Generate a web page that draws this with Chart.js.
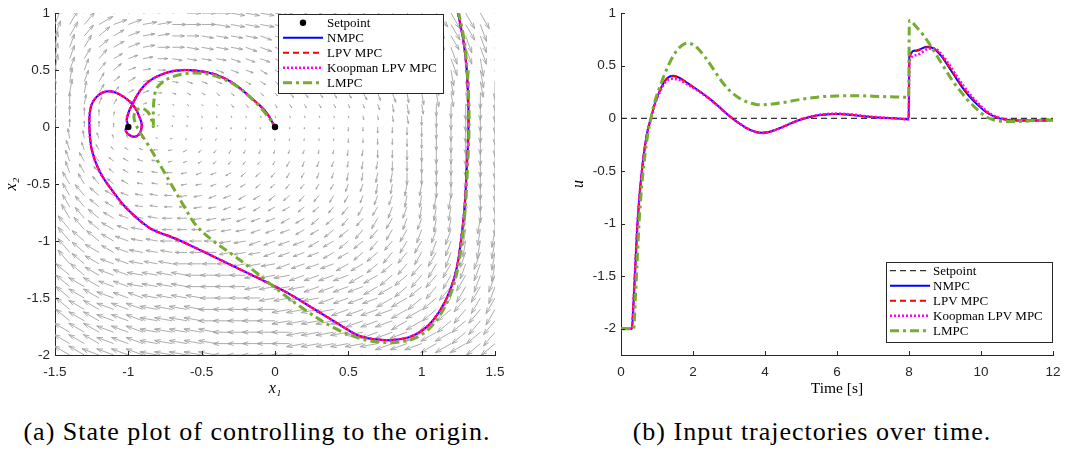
<!DOCTYPE html>
<html>
<head>
<meta charset="utf-8">
<title>State plot and input trajectories</title>
<script src="https://cdn.jsdelivr.net/npm/chart.js@4.4.1/dist/chart.umd.min.js"></script>
<style>
  html, body { margin: 0; padding: 0; background: #fff; }
  body { position: relative; width: 1072px; height: 450px; overflow: hidden; }
  .panel { position: absolute; top: 0; width: 536px; height: 400px; }
  .caption { position: absolute; top: 419px; font-family: 'Liberation Serif', 'DejaVu Serif', serif;
             font-size: 26px; line-height: 26px; letter-spacing: 1px; color: #000; white-space: nowrap;
             transform: translateX(-50%); }
</style>
</head>
<body>
<div class="panel" style="left:0"><canvas id="stateChart" width="536" height="400"></canvas></div>
<div class="panel" style="left:536px"><canvas id="inputChart" width="536" height="400"></canvas></div>
<div class="caption" style="left:257px">(a) State plot of controlling to the origin.</div>
<div class="caption" style="left:812px">(b) Input trajectories over time.</div>
<script>
// ---------- (a) state plot ----------
const X1_TICKS = [-1.5, -1, -0.5, 0, 0.5, 1, 1.5];
const X1_LABELS = ['-1.5', '-1', '-0.5', '0', '0.5', '1', '1.5'];
const X2_TICKS = [-2, -1.5, -1, -0.5, 0, 0.5, 1];
const X2_LABELS = ['-2', '-1.5', '-1', '-0.5', '0', '0.5', '1'];

const SETPOINT_X1 = [0, -1];
const SETPOINT_X2 = [0, 0];

// NMPC state trajectory (LPV MPC and Koopman LPV MPC lie on top of it)
const NMPC_X1 = [1.245, 1.284, 1.307, 1.318, 1.318, 1.307, 1.295, 1.273, 1.24, 1.193, 1.125, 1.034, 0.92, 0.807,
  0.693, 0.58, 0.511, 0.284, 0.057, -0.284, -0.64, -0.716, -0.852, -1.011, -1.102, -1.193, -1.25, -1.266,
  -1.255, -1.22, -1.17, -1.114, -1.057, -1.0, -0.97, -0.945, -0.925, -0.909, -0.92, -0.955, -1.0, -1.02, -1.0,
  -1.011, -0.995, -0.97, -0.94, -0.898, -0.86, -0.807, -0.716, -0.614, -0.51, -0.398, -0.284, -0.148, -0.057, 0];
const NMPC_X2 = [1.02, 0.76, 0.5, 0.21, -0.08, -0.37, -0.66, -0.945, -1.23, -1.436, -1.61, -1.754, -1.841, -1.868,
  -1.864, -1.835, -1.79, -1.61, -1.436, -1.22, -1.0, -0.96, -0.888, -0.715, -0.57, -0.396, -0.194, 0.037,
  0.18, 0.26, 0.305, 0.312, 0.285, 0.235, 0.195, 0.15, 0.09, 0.023, -0.05, -0.084, -0.064, -0.02, 0.0,
  0.066, 0.14, 0.205, 0.28, 0.355, 0.4, 0.442, 0.486, 0.5, 0.49, 0.457, 0.384, 0.24, 0.124, 0];
const LPV_X1 = NMPC_X1.slice();
const LPV_X2 = NMPC_X2.slice();
const KOOP_X1 = NMPC_X1.slice();
const KOOP_X2 = NMPC_X2.slice();

const LMPC_X1 = [1.25, 1.29, 1.31, 1.322, 1.322, 1.312, 1.3, 1.28, 1.248, 1.205, 1.14, 1.05, 0.94, 0.82, 0.7,
  0.58, 0.4, 0.2, 0.03, -0.17, -0.3, -0.43, -0.54, -0.625, -0.716, -0.807, -0.875, -0.932, -0.96, -0.955,
  -0.925, -0.885, -0.855, -0.838, -0.83,
  -0.83, -0.825, -0.807, -0.76, -0.7, -0.6, -0.47, -0.35, -0.25, -0.12, -0.04, 0];
const LMPC_X2 = [1.02, 0.76, 0.5, 0.21, -0.08, -0.37, -0.66, -0.945, -1.23, -1.44, -1.62, -1.77, -1.86, -1.89, -1.885,
  -1.855, -1.76, -1.6, -1.44, -1.234, -1.11, -0.99, -0.86, -0.685, -0.483, -0.281, -0.136, -0.02, 0.07, 0.13,
  0.162, 0.152, 0.11, 0.05, 0.005,
  0.12, 0.24, 0.34, 0.4, 0.44, 0.47, 0.468, 0.42, 0.35, 0.2, 0.08, 0];

// gray vector field on the 0.1 grid.
// one string per row (top row first); angle char = base-36 tens of degrees (screen, ccw from +x),
// length char = relative arrow length 0-9.
const FIELD_X1 = [-1.5, -1.4, -1.3, -1.2, -1.1, -1.0, -0.9, -0.8, -0.7, -0.6, -0.5, -0.4, -0.3, -0.2, -0.1, 0,
  0.1, 0.2, 0.3, 0.4, 0.5, 0.6, 0.7, 0.8, 0.9, 1.0, 1.1, 1.2, 1.3, 1.4, 1.5];
const FIELD_X2 = [1.0, 0.9, 0.8, 0.7, 0.6, 0.5, 0.4, 0.3, 0.2, 0.1, 0, -0.1, -0.2, -0.3, -0.4, -0.5, -0.6, -0.7,
  -0.8, -0.9, -1.0, -1.1, -1.2, -1.3, -1.4, -1.5, -1.6, -1.7, -1.8, -1.9, -2.0];
const FIELD_ANGLE = [
  '654322111000zzzzyyyyxxxwwvvuuut',
  '76532211000zzzzyyyyxxxwwvvuuutt',
  '7654321100zzzzyyyyxxxwwvvuuuttt',
  '876432100zzzzyyyxxxxwwvvuutttts',
  '87653210zzzzyyyxxxwwwvvuutttsss',
  '87754210zzyyyyxxwwwwvvuutttssss',
  '98764310zyyyxxxwwwvvvuutttssssr',
  '98865320yxxwwwwvvvvuuuttsssssrr',
  '9987642zxwvvvvuuuuuutttsssrrrrr',
  '99998763xvttttttttttsssssrrrrrr',
  '9999999999rrrrrrrrrrrrrrrrrrrrr',
  'aaabbcegjmoppqqqqqrrrrrrrrrrrrr',
  'abbcdfgijlmnooppppqqqqrrrrrrrrr',
  'abcdefghjklmnnnoopppqqqrrrrrrrr',
  'bbcdefhhijkklmmnooppqqqqrrrrrrr',
  'bccdefhhijjkllmmnnooppqqqqrrrrr',
  'bcdefghhijjkkllmmnnoopppqqqqrrr',
  'bcdefghhiijjkklllmmnnooppqqqqrr',
  'ccdefghhiijjjkkkllmmnnooppqqqqr',
  'cddefghhiiijjjkkkllmmnnoopppqqq',
  'cdeefghhiiiijjkkkkllmmnnooppqqq',
  'cdeffghhhiiijjjkkkkllmmnnoopppq',
  'ddefgghhhiiiijjjkkkkllmmnnooppq',
  'deefgghhhhiiiijjjkkkkllmmnnoopp',
  'deffgghhhhiiiijjjjkkkkllmmnnoop',
  'deffggghhhhiiiijjjjkkkkllmmnnoo',
  'eeffggghhhhiiiiijjjjkkkkllmmnno',
  'eeffggghhhhiiiiijjjjjkkklllmmnn',
  'efffggghhhhhiiiiijjjjjkkklllmmn',
  'efffggghhhhhiiiiijjjjjjkkklllmm',
  'fffgggghhhhhiiiiiijjjjjjkkklllm'
];
const FIELD_LEN = [
  '9988777777777777777788888999999',
  '9888777777777777777777888889999',
  '8877666666666666666677778888999',
  '8776666666666666666666777889999',
  '8766555555555555555556677889999',
  '8765544444444444444455667788999',
  '8765443333333333333344556677889',
  '7765433222222222333334455677889',
  '7654322111112222222222345567889',
  '6543211111111111111112234567889',
  '5433211111111111111122334567889',
  '5543221111111111111122334567889',
  '6543222222222222222233445677889',
  '6654333322222222333334455677889',
  '7654333333333333333344556677889',
  '8765443333333333333344556677889',
  '8776544444444444444444556677889',
  '8776554444444444444455566677889',
  '9877655555555555555555666677889',
  '9987766555555555555666667778889',
  '9988776666666666666666667788899',
  '9988777666666666666666777788899',
  '9988777777777777777777777888899',
  '9998888888888888888888888888999',
  '9999888888888888888888888889999',
  '9999988888888888888888899999999',
  '9999999999999999999999999999999',
  '9999999999999999999999999999999',
  '9999999999999999999999999999999',
  '9999999999999999999999999999999',
  '9999999999999999999999999999999'
];

// ---------- (b) input trajectories ----------
const T_TICKS = [0, 2, 4, 6, 8, 10, 12];
const T_LABELS = ['0', '2', '4', '6', '8', '10', '12'];
const U_TICKS = [-2, -1.5, -1, -0.5, 0, 0.5, 1];
const U_LABELS = ['-2', '-1.5', '-1', '-0.5', '0', '0.5', '1'];

const SETPOINT_T = [0, 12];
const SETPOINT_U = [0, 0];

const NMPC_T = [0, 0.3, 0.35, 0.4, 0.45, 0.5, 0.55, 0.6, 0.67, 0.75, 0.83, 0.95, 1.1, 1.25, 1.45, 1.65, 1.85, 2.0,
  2.25, 2.5, 2.75, 3.0, 3.25, 3.5, 3.75, 3.9, 4.1, 4.4, 4.7, 5.0, 5.3, 5.6, 6.0, 6.4, 6.8, 7.2, 7.6, 7.99,
  8.01, 8.2, 8.5, 8.7, 8.9, 9.1, 9.3, 9.5, 9.7, 9.9, 10.1, 10.3, 10.6, 11.0, 11.5, 12];
const NMPC_U = [-2, -2, -1.75, -1.4, -1.05, -0.8, -0.6, -0.44, -0.25, -0.1, 0, 0.15, 0.28, 0.37, 0.405, 0.38, 0.335, 0.3,
  0.24, 0.175, 0.1, 0.025, -0.04, -0.095, -0.13, -0.138, -0.13, -0.095, -0.05, -0.012, 0.018, 0.033, 0.04, 0.032, 0.016, 0.006, 0.0, -0.01,
  0.59, 0.645, 0.68, 0.66, 0.59, 0.49, 0.385, 0.285, 0.2, 0.13, 0.07, 0.028, -0.008, -0.02, -0.022, -0.018];
const LPV_T = NMPC_T.slice();
const LPV_U = [-2, -2, -1.72, -1.38, -1.04, -0.8, -0.6, -0.44, -0.25, -0.1, 0, 0.15, 0.28, 0.365, 0.4, 0.378, 0.333, 0.298,
  0.24, 0.175, 0.1, 0.025, -0.04, -0.095, -0.13, -0.138, -0.13, -0.095, -0.05, -0.012, 0.018, 0.034, 0.042, 0.034, 0.018, 0.007, 0.0, -0.01,
  0.58, 0.64, 0.675, 0.662, 0.6, 0.5, 0.395, 0.295, 0.21, 0.14, 0.075, 0.03, -0.006, -0.02, -0.022, -0.018];
const KOOP_T = NMPC_T.slice();
const KOOP_U = [-2, -2, -1.72, -1.38, -1.04, -0.8, -0.6, -0.44, -0.26, -0.11, -0.01, 0.14, 0.265, 0.35, 0.375, 0.36, 0.32, 0.29,
  0.235, 0.172, 0.1, 0.025, -0.04, -0.095, -0.13, -0.14, -0.132, -0.097, -0.05, -0.01, 0.02, 0.037, 0.045, 0.037, 0.02, 0.008, 0.0, -0.01,
  0.54, 0.6, 0.655, 0.665, 0.61, 0.52, 0.415, 0.315, 0.225, 0.15, 0.085, 0.035, -0.004, -0.02, -0.022, -0.018];

const LMPC_T = [0, 0.35, 0.4, 0.45, 0.5, 0.55, 0.6, 0.67, 0.75, 0.83, 0.95, 1.1, 1.3, 1.5, 1.7, 1.85, 2.0, 2.2, 2.4,
  2.6, 2.8, 3.0, 3.25, 3.5, 3.75, 3.9, 4.2, 4.5, 5.0, 5.5, 6.0, 6.5, 7.0, 7.5, 7.99,
  8.01, 8.2, 8.4, 8.6, 8.8, 9.0, 9.2, 9.4, 9.6, 9.8, 10.0, 10.2, 10.4, 10.7, 11.0, 11.5, 11.8, 12];
const LMPC_U = [-2, -2, -1.7, -1.35, -1.0, -0.75, -0.55, -0.33, -0.14, 0, 0.17, 0.32, 0.49, 0.62, 0.695, 0.715, 0.7, 0.64, 0.55,
  0.45, 0.35, 0.27, 0.2, 0.155, 0.132, 0.128, 0.135, 0.15, 0.18, 0.203, 0.213, 0.215, 0.21, 0.204, 0.2,
  0.93, 0.87, 0.79, 0.69, 0.58, 0.47, 0.36, 0.27, 0.185, 0.115, 0.05, 0.005, -0.02, -0.03, -0.03, -0.022, -0.012, -0.018];

// ---------- styles ----------
const TICK_FONT = { family: "'Liberation Sans', Arial, sans-serif", size: 13.5 };
const AXIS_COLOR = '#262626';
const ARROW_UNIT = 2;   // px per length step of a field arrow
const HEAD = 0.33, HEAD_W = 0.33;

const pts = (xs, ys) => xs.map((v, i) => ({ x: v, y: ys[i] }));
const fixedTicks = (vals) => (scale) => { scale.ticks = vals.map(v => ({ value: v })); };
const labelFor = (vals, labels) => (value) => {
  const i = vals.findIndex(v => Math.abs(v - value) < 1e-9);
  return i < 0 ? '' : labels[i];
};

// gray quiver field, drawn before the trajectories
const quiverPlugin = {
  id: 'quiver',
  beforeDatasetsDraw(chart) {
    const { ctx, chartArea: a, scales: { x, y } } = chart;
    ctx.save();
    ctx.beginPath();
    ctx.rect(a.left, a.top, a.right - a.left, a.bottom - a.top);
    ctx.clip();
    ctx.strokeStyle = '#a3a3a3';
    ctx.lineWidth = 0.9;
    ctx.beginPath();
    FIELD_X2.forEach((v2, r) => {
      FIELD_X1.forEach((v1, c) => {
        const ac = FIELD_ANGLE[r][c], lc = FIELD_LEN[r][c];
        if (ac === undefined || lc === undefined) return;
        const ang = parseInt(ac, 36) * 10 * Math.PI / 180;
        const len = Math.max(1, Number(lc) * ARROW_UNIT);
        const x0 = x.getPixelForValue(v1), y0 = y.getPixelForValue(v2);
        const dx = len * Math.cos(ang), dy = -len * Math.sin(ang);
        const x1 = x0 + dx, y1 = y0 + dy;
        ctx.moveTo(x0, y0);
        ctx.lineTo(x1, y1);
        ctx.moveTo(x1 - HEAD * (dx + HEAD_W * dy), y1 - HEAD * (dy - HEAD_W * dx));
        ctx.lineTo(x1, y1);
        ctx.lineTo(x1 - HEAD * (dx - HEAD_W * dy), y1 - HEAD * (dy + HEAD_W * dx));
      });
    });
    ctx.stroke();
    ctx.restore();
  }
};

// MATLAB style ticks pointing into the axes
const innerTicks = {
  id: 'innerTicks',
  afterDatasetsDraw(chart) {
    const { ctx, chartArea: a, scales: { x, y } } = chart;
    ctx.save();
    ctx.strokeStyle = AXIS_COLOR;
    ctx.lineWidth = 1;
    ctx.beginPath();
    x.ticks.forEach(t => {
      const px = Math.round(x.getPixelForValue(t.value)) + 0.5;
      ctx.moveTo(px, a.bottom); ctx.lineTo(px, a.bottom - 4);
    });
    y.ticks.forEach(t => {
      const py = Math.round(y.getPixelForValue(t.value)) + 0.5;
      ctx.moveTo(a.left, py); ctx.lineTo(a.left + 4, py);
    });
    ctx.stroke();
    ctx.restore();
  }
};

// boxed legend drawn from the dataset styles
const boxLegend = {
  id: 'boxLegend',
  afterDraw(chart, args, o) {
    const { ctx } = chart;
    ctx.save();
    ctx.fillStyle = '#fff';
    ctx.fillRect(o.left, o.top, o.width, o.height);
    ctx.strokeStyle = AXIS_COLOR;
    ctx.lineWidth = 1;
    ctx.strokeRect(o.left + 0.5, o.top + 0.5, o.width, o.height);
    ctx.font = "13px 'Liberation Serif', 'DejaVu Serif', serif";
    ctx.textBaseline = 'middle';
    chart.data.datasets.forEach((ds, i) => {
      const cy = o.top + o.firstRow + i * o.rowHeight;
      const sx = o.left + o.sampleLeft, ex = sx + o.sampleWidth;
      if (ds.showLine === false) {
        ctx.fillStyle = ds.backgroundColor;
        ctx.beginPath();
        ctx.arc((sx + ex) / 2, cy, ds.pointRadius, 0, Math.PI * 2);
        ctx.fill();
      } else {
        ctx.strokeStyle = ds.borderColor;
        ctx.lineWidth = ds.borderWidth;
        ctx.setLineDash(ds.borderDash || []);
        ctx.beginPath();
        ctx.moveTo(sx, cy); ctx.lineTo(ex, cy);
        ctx.stroke();
        ctx.setLineDash([]);
      }
      ctx.fillStyle = '#000';
      ctx.fillText(ds.label, ex + o.gap, cy + 0.5);
    });
    ctx.restore();
  }
};

function axisOptions(ticks, labels, title, titlePad, size, vertical) {
  return {
    type: 'linear',
    afterBuildTicks: fixedTicks(ticks),
    afterFit: (s) => { if (vertical) s.width = size; else s.height = size; },
    grid: { display: false, drawTicks: false },
    border: { display: true, color: AXIS_COLOR, width: 1 },
    ticks: {
      color: AXIS_COLOR, font: TICK_FONT, padding: vertical ? 5 : 9,
      maxRotation: 0, autoSkip: false,
      callback: labelFor(ticks, labels)
    },
    title: {
      display: true, text: title, color: '#000', padding: titlePad,
      font: { family: "'Liberation Serif', 'DejaVu Serif', serif", size: 16, style: 'italic', weight: 'normal' }
    }
  };
}

const lineStyle = {
  nmpc: { borderColor: '#0000ff', borderWidth: 2, borderDash: [] },
  lpv: { borderColor: '#ff0000', borderWidth: 2, borderDash: [6, 4] },
  koop: { borderColor: '#ff00ff', borderWidth: 2.5, borderDash: [2, 2] },
  lmpc: { borderColor: '#77ac30', borderWidth: 3, borderDash: [9, 4, 3, 4] }
};

// ---------- chart (a) ----------
const stateXAxis = axisOptions(X1_TICKS, X1_LABELS, 'x₁', { top: 0, bottom: 2 }, 45, false);
stateXAxis.min = -1.5; stateXAxis.max = 1.5;
const stateYAxis = axisOptions(X2_TICKS, X2_LABELS, 'x₂', { top: 2, bottom: 0 }, 55, true);
stateYAxis.min = -2; stateYAxis.max = 1;

new Chart(document.getElementById('stateChart'), {
  type: 'scatter',
  data: {
    datasets: [
      { label: 'Setpoint', data: pts(SETPOINT_X1, SETPOINT_X2), showLine: false, pointRadius: 3.2,
        backgroundColor: '#000', borderColor: '#000', pointBorderWidth: 0, order: 0 },
      Object.assign({ label: 'NMPC', data: pts(NMPC_X1, NMPC_X2), order: 4 }, lineStyle.nmpc),
      Object.assign({ label: 'LPV MPC', data: pts(LPV_X1, LPV_X2), order: 3 }, lineStyle.lpv),
      Object.assign({ label: 'Koopman LPV MPC', data: pts(KOOP_X1, KOOP_X2), order: 2 }, lineStyle.koop),
      Object.assign({ label: 'LMPC', data: pts(LMPC_X1, LMPC_X2), order: 1 }, lineStyle.lmpc)
    ].map(ds => Object.assign({ showLine: true, pointRadius: 0, tension: 0.35, fill: false }, ds))
  },
  options: {
    responsive: false, animation: false, devicePixelRatio: 1,
    layout: { padding: { left: 0, top: 9, right: 41, bottom: 0 } },
    scales: { x: stateXAxis, y: stateYAxis },
    plugins: {
      legend: { display: false }, tooltip: { enabled: false },
      boxLegend: { left: 278, top: 14, width: 165, height: 79, firstRow: 8.7, rowHeight: 15,
                   sampleLeft: 5, sampleWidth: 40, gap: 4 }
    }
  },
  plugins: [quiverPlugin, innerTicks, boxLegend]
});

// ---------- chart (b) ----------
const timeAxis = axisOptions(T_TICKS, T_LABELS, 'Time [s]', { top: 0, bottom: 2 }, 45, false);
timeAxis.min = 0; timeAxis.max = 12;
timeAxis.title.font = { family: "'Liberation Serif', 'DejaVu Serif', serif", size: 15.5, weight: 'normal' };
const inputAxis = axisOptions(U_TICKS, U_LABELS, 'u', { top: 3, bottom: 0 }, 55, true);
inputAxis.min = -2.25; inputAxis.max = 1;

new Chart(document.getElementById('inputChart'), {
  type: 'scatter',
  data: {
    datasets: [
      { label: 'Setpoint', data: pts(SETPOINT_T, SETPOINT_U), borderColor: '#000', borderWidth: 1,
        borderDash: [6, 4], order: 5 },
      Object.assign({ label: 'NMPC', data: pts(NMPC_T, NMPC_U), order: 4 }, lineStyle.nmpc),
      Object.assign({ label: 'LPV MPC', data: pts(LPV_T, LPV_U), order: 3 }, lineStyle.lpv),
      Object.assign({ label: 'Koopman LPV MPC', data: pts(KOOP_T, KOOP_U), order: 2 }, lineStyle.koop),
      Object.assign({ label: 'LMPC', data: pts(LMPC_T, LMPC_U), order: 1 }, lineStyle.lmpc)
    ].map(ds => Object.assign({ showLine: true, pointRadius: 0, cubicInterpolationMode: 'monotone', fill: false }, ds))
  },
  options: {
    responsive: false, animation: false, devicePixelRatio: 1,
    layout: { padding: { left: 30, top: 9, right: 19, bottom: 0 } },
    scales: { x: timeAxis, y: inputAxis },
    plugins: {
      legend: { display: false }, tooltip: { enabled: false },
      boxLegend: { left: 350, top: 262, width: 166, height: 80, firstRow: 8.7, rowHeight: 15,
                   sampleLeft: 4, sampleWidth: 40, gap: 3 }
    }
  },
  plugins: [innerTicks, boxLegend]
});
</script>
</body>
</html>
